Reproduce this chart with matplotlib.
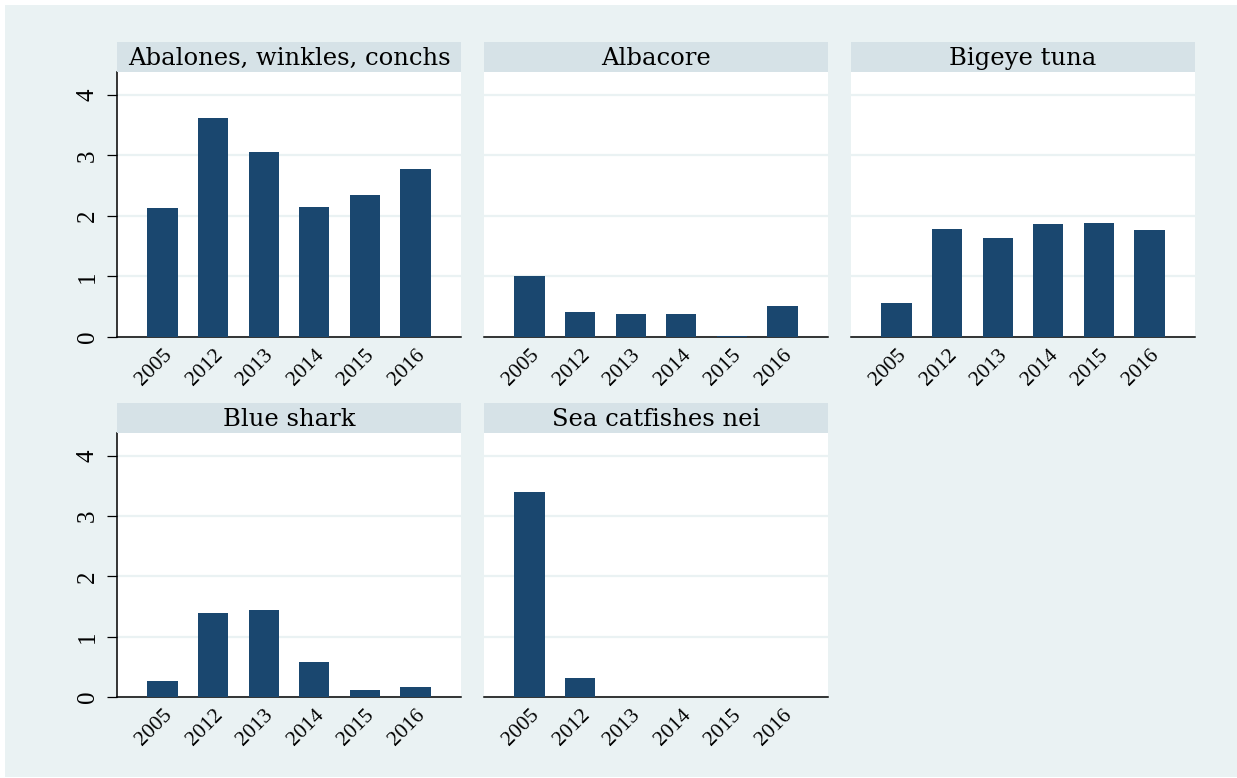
import matplotlib.pyplot as plt
from matplotlib.patches import Rectangle

years = ["2005", "2012", "2013", "2014", "2015", "2016"]
abalones = [2.13, 3.62, 3.06, 2.15, 2.35, 2.78]
albacore = [1.00, 0.41, 0.38, 0.38, 0.02, 0.52]
bigeye_tuna = [0.56, 1.79, 1.64, 1.87, 1.88, 1.77]
blue_shark = [0.26, 1.39, 1.45, 0.58, 0.12, 0.17]
sea_catfishes = [3.40, 0.32, 0.0, 0.0, 0.0, 0.0]
panel_titles = ["Abalones, winkles, conchs", "Albacore", "Bigeye tuna",
                "Blue shark", "Sea catfishes nei"]
panel_values = [abalones, albacore, bigeye_tuna, blue_shark, sea_catfishes]
y_ticks = [0, 1, 2, 3, 4]

BAR = "#1a476f"
BG = "#eaf2f3"
STRIP = "#d6e2e7"
GRID = "#eaf2f3"
FONT = "DejaVu Serif"
TICK_FONT = ["Liberation Serif", "DejaVu Serif"]

W, H = 1237, 778
fig = plt.figure(figsize=(W / 100, H / 100), dpi=100, facecolor="white")
fig.patches.append(Rectangle((5 / W, 1 / H), 1 - 5 / W, 1 - 6 / H,
                             transform=fig.transFigure, facecolor=BG,
                             edgecolor="none", zorder=-10))

col_left = [117, 484, 851]
panel_w = 344
rows = [(72, 337), (433, 697)]
strip_h = 30

for i, (title, vals) in enumerate(zip(panel_titles, panel_values)):
    r, c = divmod(i, 3)
    top, bottom = rows[r]
    left = col_left[c]
    ax = fig.add_axes([left / W, 1 - bottom / H, panel_w / W, (bottom - top) / H])
    ax.set_facecolor("white")
    x = range(len(years))
    ax.bar(x, vals, width=0.6, color=BAR, edgecolor="none", zorder=3)
    ax.set_xlim(-0.9, len(years) - 0.1)
    ax.set_ylim(0, 4.38)
    ax.set_yticks(y_ticks)
    ax.yaxis.grid(True, color=GRID, linewidth=1.6, zorder=0)
    ax.set_axisbelow(True)
    for s in ("top", "right"):
        ax.spines[s].set_visible(False)
    ax.spines["bottom"].set_linewidth(1.1)
    ax.set_xticks(list(x))
    ax.set_xticklabels(years, rotation=45, ha="right", rotation_mode="anchor",
                       fontsize=15.5, family=TICK_FONT)
    ax.tick_params(axis="x", length=0, pad=6)
    if c == 0:
        ax.spines["left"].set_linewidth(1.1)
        ax.set_yticklabels([str(t) for t in y_ticks], rotation=90,
                           va="center", fontsize=18, family=TICK_FONT)
        ax.tick_params(axis="y", length=7.2, width=0.9, pad=6)
    else:
        ax.spines["left"].set_visible(False)
        ax.tick_params(axis="y", length=0, labelleft=False)

    sax = fig.add_axes([left / W, 1 - top / H, panel_w / W, strip_h / H])
    sax.set_facecolor(STRIP)
    sax.set_xticks([])
    sax.set_yticks([])
    for s in sax.spines.values():
        s.set_visible(False)
    sax.text(0.5, 0.45, title, ha="center", va="center", fontsize=17.5,
             family=FONT, transform=sax.transAxes)

fig.savefig("out.png", dpi=100, facecolor=fig.get_facecolor())
